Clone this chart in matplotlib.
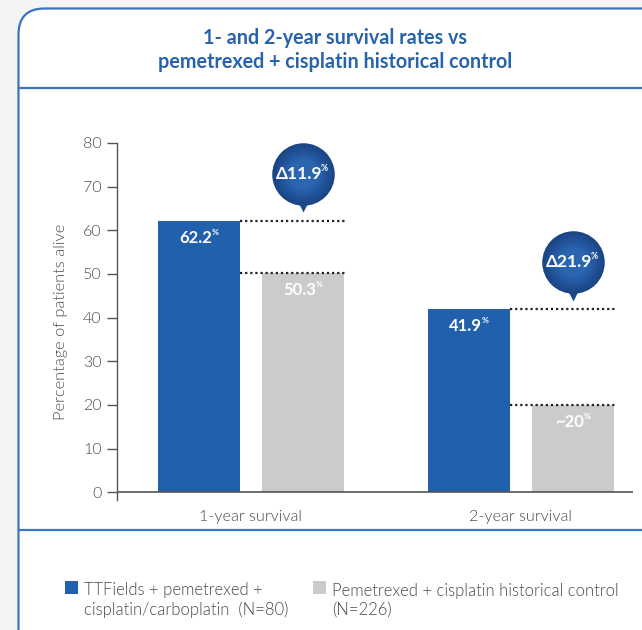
import matplotlib
matplotlib.use('Agg')
import matplotlib.pyplot as plt
import matplotlib.patches as mpatches
import matplotlib.transforms as mtransforms
import numpy as np

# ---------------- data ----------------
categories = ['1-year survival', '2-year survival']
series_names = ['TTFields + pemetrexed +\ncisplatin/carboplatin  (N=80)',
                'Pemetrexed + cisplatin historical control\n(N=226)']
ttfields = [62.2, 41.9]
control = [50.3, 20.0]
ttfields_labels = ['62.2', '41.9']
control_labels = ['50.3', '~20']
yticks = [0, 10, 20, 30, 40, 50, 60, 70, 80]
title = '1- and 2-year survival rates vs\npemetrexed + cisplatin historical control'
ylabel = 'Percentage of patients alive'

# ---------------- style ----------------
FONT = 'Lato'
BLUE = '#2160ad'
GRAY = '#cbcbcb'
BORDER = '#3a74c2'
TITLE_C = '#2563ad'
TXT = '#4a4a4a'
LIGHT = 300

W, H = 642, 630
fig = plt.figure(figsize=(W / 100, H / 100), dpi=100)
fig.patch.set_facecolor('#f4f4f4')

# background panel (pixel coordinates)
bg = fig.add_axes([0, 0, 1, 1], zorder=0)
bg.set_xlim(0, W)
bg.set_ylim(H, 0)
bg.axis('off')
panel = mpatches.FancyBboxPatch((18.5, 8.5), 680, 680,
                                boxstyle='round,pad=0,rounding_size=26',
                                fc='white', ec=BORDER, lw=1.6)
bg.add_patch(panel)
bg.plot([18.5, W + 5], [88, 88], color=BORDER, lw=1.6)
bg.plot([18.5, W + 5], [530, 530], color=BORDER, lw=1.6)

bg.text(335, 50, title, ha='center', va='center', color=TITLE_C,
        fontsize=14.2, fontweight='bold', family=FONT, linespacing=1.2)

# legend (manual)
leg_x = [65, 313]
for lx, name, col in zip(leg_x, series_names, [BLUE, GRAY]):
    bg.add_patch(mpatches.Rectangle((lx, 581), 13, 13, fc=col, ec='none'))
    bg.text(lx + 19, 600, name, ha='left', va='center', color=TXT,
            fontsize=12, family=FONT, fontweight=LIGHT, linespacing=1.22)

# ---------------- chart axes ----------------
ax = fig.add_axes([117 / W, (H - 500) / H, (633 - 117) / W, (500 - 143) / H], zorder=2)
ax.patch.set_alpha(0)
ax.set_ylim(-1.8, 80)
ax.set_xlim(-0.496, 1.415)

x = np.arange(len(categories))
off, bw = 0.193, 0.304
ax.bar(x - off, ttfields, width=bw, color=BLUE, zorder=2)
ax.bar(x + off, control, width=bw, color=GRAY, zorder=2)

for s in ['top', 'right', 'bottom']:
    ax.spines[s].set_visible(False)
ax.spines['left'].set_color('#555555')
ax.spines['left'].set_linewidth(1.0)
ax.axhline(0, color='#555555', lw=1.2, zorder=3)

ax.set_yticks(yticks)
ax.tick_params(axis='y', direction='out', length=7, width=1, color='#555555',
               labelcolor=TXT, labelsize=11.5, pad=4)
ax.set_xticks(x)
ax.set_xticklabels(categories)
ax.tick_params(axis='x', length=0, labelcolor=TXT, labelsize=11.7, pad=7)
for lab in ax.get_xticklabels() + ax.get_yticklabels():
    lab.set_family(FONT)
    lab.set_fontweight(LIGHT)
ax.set_ylabel(ylabel, color=TXT, fontsize=11.8, family=FONT, fontweight=LIGHT,
              labelpad=11)


def pct_label(xv, yv, txt, dy, size, dx=-3):
    tr = mtransforms.offset_copy(ax.transData, fig=fig, x=dx, y=dy, units='dots')
    t = ax.text(xv, yv, txt, transform=tr, ha='center', va='center', color='white',
                fontsize=size, fontweight='bold', family=FONT, zorder=6)
    ax.annotate('%', xy=(0.97, 0.85), xycoords=t, ha='left', va='center',
                color='white', fontsize=size * 0.5, fontweight='bold',
                family=FONT, zorder=6)
    return t


for i in range(len(categories)):
    pct_label(x[i] - off, ttfields[i], ttfields_labels[i], -17, 12)
    pct_label(x[i] + off, control[i], control_labels[i], -17, 12)
    # dotted reference lines
    x0 = x[i] - off + bw / 2
    x1 = x[i] + off + bw / 2 + 0.012
    for yv in (ttfields[i], control[i]):
        ax.plot([x0, x1], [yv, yv], color='#222222', lw=1.6,
                linestyle=(0, (1, 1.3)), zorder=4, clip_on=False)
    # bubble
    bx = x[i] + off
    by = ttfields[i]
    trc = mtransforms.offset_copy(ax.transData, fig=fig, x=0, y=47, units='dots')
    trp = mtransforms.offset_copy(ax.transData, fig=fig, x=0, y=14.5, units='dots')
    ax.plot([bx], [by], marker='v', ms=9, color='#1d4a8c', mec='none',
            transform=trp, zorder=5, clip_on=False)
    n = 12
    c_out = np.array([0x1a, 0x44, 0x84]) / 255
    c_in = np.array([0x2b, 0x65, 0xb1]) / 255
    for k in range(n):
        f = k / (n - 1)
        ms = 45 * (1 - 0.55 * f)
        col = c_out * (1 - f) + c_in * f
        ax.plot([bx], [by], marker='o', ms=ms, color=col, mec='none',
                transform=trc, zorder=5, clip_on=False)
    delta = ttfields[i] - control[i]
    pct_label(bx, by, f'\u0394{delta:.1f}', 47, 12.5, dx=-4)

fig.savefig('out.png', dpi=100, facecolor=fig.get_facecolor())
